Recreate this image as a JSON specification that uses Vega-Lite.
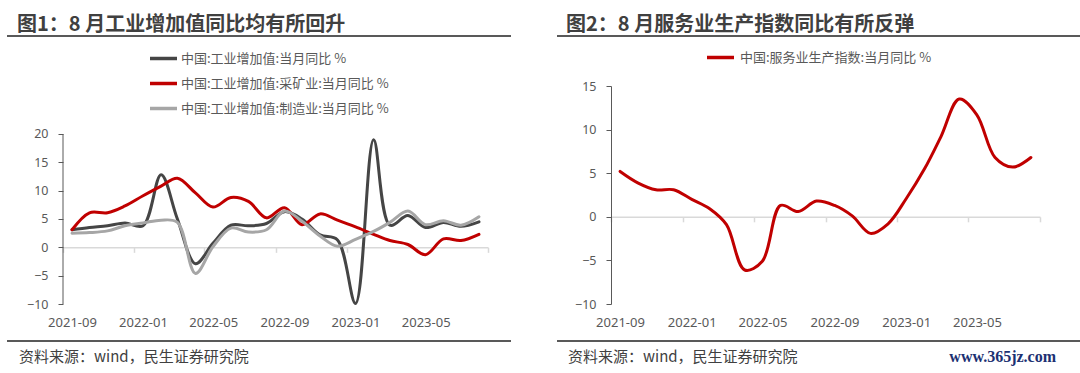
{
  "$schema": "https://vega.github.io/schema/vega-lite/v6.json",
  "background": "#ffffff",
  "padding": {"left": 6, "top": 15, "right": 0, "bottom": 0},
  "bounds": "flush",
  "spacing": 123,
  "config": {
    "font": "Noto Sans CJK SC",
    "view": {"stroke": null},
    "axisY": {"labelOverlap": false},
    "axisX": {"labelOverlap": false}
  },
  "resolve": {"scale": {"x": "independent", "y": "independent", "color": "independent"}, "legend": {"color": "independent"}},
  "datasets": {
    "ind": [
      {"month": "2021-09", "series": "中国:工业增加值:当月同比 %", "value": 3.1},
      {"month": "2021-09", "series": "中国:工业增加值:采矿业:当月同比 %", "value": 3.1},
      {"month": "2021-09", "series": "中国:工业增加值:制造业:当月同比 %", "value": 2.5},
      {"month": "2021-10", "series": "中国:工业增加值:当月同比 %", "value": 3.5},
      {"month": "2021-10", "series": "中国:工业增加值:采矿业:当月同比 %", "value": 6.1},
      {"month": "2021-10", "series": "中国:工业增加值:制造业:当月同比 %", "value": 2.6},
      {"month": "2021-11", "series": "中国:工业增加值:当月同比 %", "value": 3.8},
      {"month": "2021-11", "series": "中国:工业增加值:采矿业:当月同比 %", "value": 6.1},
      {"month": "2021-11", "series": "中国:工业增加值:制造业:当月同比 %", "value": 2.9},
      {"month": "2021-12", "series": "中国:工业增加值:当月同比 %", "value": 4.3},
      {"month": "2021-12", "series": "中国:工业增加值:采矿业:当月同比 %", "value": 7.3},
      {"month": "2021-12", "series": "中国:工业增加值:制造业:当月同比 %", "value": 3.8},
      {"month": "2022-01", "series": "中国:工业增加值:当月同比 %", "value": 3.8},
      {"month": "2022-01", "series": "中国:工业增加值:采矿业:当月同比 %", "value": 9.1},
      {"month": "2022-01", "series": "中国:工业增加值:制造业:当月同比 %", "value": 4.3},
      {"month": "2022-02", "series": "中国:工业增加值:当月同比 %", "value": 12.8},
      {"month": "2022-02", "series": "中国:工业增加值:采矿业:当月同比 %", "value": 10.8},
      {"month": "2022-02", "series": "中国:工业增加值:制造业:当月同比 %", "value": 4.8},
      {"month": "2022-03", "series": "中国:工业增加值:当月同比 %", "value": 5.0},
      {"month": "2022-03", "series": "中国:工业增加值:采矿业:当月同比 %", "value": 12.2},
      {"month": "2022-03", "series": "中国:工业增加值:制造业:当月同比 %", "value": 4.4},
      {"month": "2022-04", "series": "中国:工业增加值:当月同比 %", "value": -2.9},
      {"month": "2022-04", "series": "中国:工业增加值:采矿业:当月同比 %", "value": 9.6},
      {"month": "2022-04", "series": "中国:工业增加值:制造业:当月同比 %", "value": -4.6},
      {"month": "2022-05", "series": "中国:工业增加值:当月同比 %", "value": 0.7},
      {"month": "2022-05", "series": "中国:工业增加值:采矿业:当月同比 %", "value": 7.1},
      {"month": "2022-05", "series": "中国:工业增加值:制造业:当月同比 %", "value": 0.1},
      {"month": "2022-06", "series": "中国:工业增加值:当月同比 %", "value": 3.9},
      {"month": "2022-06", "series": "中国:工业增加值:采矿业:当月同比 %", "value": 8.8},
      {"month": "2022-06", "series": "中国:工业增加值:制造业:当月同比 %", "value": 3.4},
      {"month": "2022-07", "series": "中国:工业增加值:当月同比 %", "value": 3.8},
      {"month": "2022-07", "series": "中国:工业增加值:采矿业:当月同比 %", "value": 8.1},
      {"month": "2022-07", "series": "中国:工业增加值:制造业:当月同比 %", "value": 2.7},
      {"month": "2022-08", "series": "中国:工业增加值:当月同比 %", "value": 4.2},
      {"month": "2022-08", "series": "中国:工业增加值:采矿业:当月同比 %", "value": 5.2},
      {"month": "2022-08", "series": "中国:工业增加值:制造业:当月同比 %", "value": 3.1},
      {"month": "2022-09", "series": "中国:工业增加值:当月同比 %", "value": 6.3},
      {"month": "2022-09", "series": "中国:工业增加值:采矿业:当月同比 %", "value": 7.0},
      {"month": "2022-09", "series": "中国:工业增加值:制造业:当月同比 %", "value": 6.4},
      {"month": "2022-10", "series": "中国:工业增加值:当月同比 %", "value": 5.0},
      {"month": "2022-10", "series": "中国:工业增加值:采矿业:当月同比 %", "value": 4.0},
      {"month": "2022-10", "series": "中国:工业增加值:制造业:当月同比 %", "value": 4.6},
      {"month": "2022-11", "series": "中国:工业增加值:当月同比 %", "value": 2.2},
      {"month": "2022-11", "series": "中国:工业增加值:采矿业:当月同比 %", "value": 5.9},
      {"month": "2022-11", "series": "中国:工业增加值:制造业:当月同比 %", "value": 2.0},
      {"month": "2022-12", "series": "中国:工业增加值:当月同比 %", "value": 1.3},
      {"month": "2022-12", "series": "中国:工业增加值:采矿业:当月同比 %", "value": 4.8},
      {"month": "2022-12", "series": "中国:工业增加值:制造业:当月同比 %", "value": 0.2},
      {"month": "2023-01", "series": "中国:工业增加值:当月同比 %", "value": -9.9},
      {"month": "2023-01", "series": "中国:工业增加值:采矿业:当月同比 %", "value": 3.6},
      {"month": "2023-01", "series": "中国:工业增加值:制造业:当月同比 %", "value": 1.4},
      {"month": "2023-02", "series": "中国:工业增加值:当月同比 %", "value": 19.0},
      {"month": "2023-02", "series": "中国:工业增加值:采矿业:当月同比 %", "value": 2.3},
      {"month": "2023-02", "series": "中国:工业增加值:制造业:当月同比 %", "value": 2.8},
      {"month": "2023-03", "series": "中国:工业增加值:当月同比 %", "value": 3.9},
      {"month": "2023-03", "series": "中国:工业增加值:采矿业:当月同比 %", "value": 1.2},
      {"month": "2023-03", "series": "中国:工业增加值:制造业:当月同比 %", "value": 4.4},
      {"month": "2023-04", "series": "中国:工业增加值:当月同比 %", "value": 5.6},
      {"month": "2023-04", "series": "中国:工业增加值:采矿业:当月同比 %", "value": 0.5},
      {"month": "2023-04", "series": "中国:工业增加值:制造业:当月同比 %", "value": 6.4},
      {"month": "2023-05", "series": "中国:工业增加值:当月同比 %", "value": 3.5},
      {"month": "2023-05", "series": "中国:工业增加值:采矿业:当月同比 %", "value": -1.3},
      {"month": "2023-05", "series": "中国:工业增加值:制造业:当月同比 %", "value": 4.0},
      {"month": "2023-06", "series": "中国:工业增加值:当月同比 %", "value": 4.4},
      {"month": "2023-06", "series": "中国:工业增加值:采矿业:当月同比 %", "value": 1.5},
      {"month": "2023-06", "series": "中国:工业增加值:制造业:当月同比 %", "value": 4.7},
      {"month": "2023-07", "series": "中国:工业增加值:当月同比 %", "value": 3.7},
      {"month": "2023-07", "series": "中国:工业增加值:采矿业:当月同比 %", "value": 1.2},
      {"month": "2023-07", "series": "中国:工业增加值:制造业:当月同比 %", "value": 3.9},
      {"month": "2023-08", "series": "中国:工业增加值:当月同比 %", "value": 4.5},
      {"month": "2023-08", "series": "中国:工业增加值:采矿业:当月同比 %", "value": 2.3},
      {"month": "2023-08", "series": "中国:工业增加值:制造业:当月同比 %", "value": 5.4}
    ],
    "svc": [
      {"month": "2021-09", "value": 5.2},
      {"month": "2021-10", "value": 3.9},
      {"month": "2021-11", "value": 3.1},
      {"month": "2021-12", "value": 3.1},
      {"month": "2022-01", "value": 2.0},
      {"month": "2022-02", "value": 0.9},
      {"month": "2022-03", "value": -0.9},
      {"month": "2022-04", "value": -6.1},
      {"month": "2022-05", "value": -5.1},
      {"month": "2022-06", "value": 1.3},
      {"month": "2022-07", "value": 0.6},
      {"month": "2022-08", "value": 1.8},
      {"month": "2022-09", "value": 1.3},
      {"month": "2022-10", "value": 0.1},
      {"month": "2022-11", "value": -1.9},
      {"month": "2022-12", "value": -0.8},
      {"month": "2023-01", "value": 2.1},
      {"month": "2023-02", "value": 5.5},
      {"month": "2023-03", "value": 9.2},
      {"month": "2023-04", "value": 13.5},
      {"month": "2023-05", "value": 11.7},
      {"month": "2023-06", "value": 6.8},
      {"month": "2023-07", "value": 5.7},
      {"month": "2023-08", "value": 6.8}
    ]
  },
  "hconcat": [
    {
      "width": 425,
      "height": 218,
      "title": {"text": "图1：8 月工业增加值同比均有所回升", "anchor": "start", "frame": "group", "dx": -46, "offset": 0, "fontSize": 20, "fontWeight": "bold", "color": "#404040", "font": "Noto Sans CJK SC"},
      "layer": [
        {
          "data": {"name": "ind"},
          "mark": {"type": "line", "interpolate": "catmull-rom", "strokeWidth": 3, "strokeCap": "round", "strokeJoin": "round"},
          "encoding": {
            "x": {
              "field": "month", "type": "temporal",
              "scale": {"type": "utc", "domain": [{"year": 2021, "month": 8, "date": 16, "hours": 12, "utc": true}, {"year": 2023, "month": 8, "date": 16, "hours": 12, "utc": true}]},
              "axis": {
                "orient": "bottom", "offset": -56.67, "title": null, "grid": false,
                "values": [
                  {"year": 2021, "month": 8, "date": 16, "hours": 12, "utc": true},
                  {"year": 2021, "month": 12, "date": 16, "hours": 12, "utc": true},
                  {"year": 2022, "month": 4, "date": 16, "utc": true},
                  {"year": 2022, "month": 8, "date": 16, "hours": 12, "utc": true},
                  {"year": 2022, "month": 12, "date": 16, "hours": 12, "utc": true},
                  {"year": 2023, "month": 4, "date": 16, "utc": true},
                  {"year": 2023, "month": 8, "date": 16, "hours": 12, "utc": true}
                ],
                "labelExpr": "datum.value > 1690000000000 ? '' : utcFormat(datum.value + 1382400000, '%Y-%m')",
                "labelOffset": 9, "labelPadding": 63.7, "labelFlush": false, "labelOverlap": false,
                "labelFont": "Noto Sans", "labelFontSize": 13, "labelColor": "#595959",
                "domain": true, "domainColor": "#d9d9d9", "domainWidth": 1.5,
                "ticks": true, "tickColor": "#d9d9d9", "tickSize": 5, "tickWidth": 1.5
              }
            },
            "y": {
              "field": "value", "type": "quantitative",
              "scale": {"domain": [-10, 28.47], "nice": false, "zero": false},
              "axis": {"orient": "left", "values": [-10, -5, 0, 5, 10, 15, 20], "tickCount": 8, "labelOverlap": false, "domain": false, "ticks": true, "tickColor": "#595959", "tickSize": 5, "labelFont": "Noto Sans", "labelColor": "#595959", "labelFontSize": 12.5, "labelPadding": 10, "title": null, "grid": false}
            },
            "color": {
              "field": "series", "type": "nominal",
              "scale": {"domain": ["中国:工业增加值:当月同比 %", "中国:工业增加值:采矿业:当月同比 %", "中国:工业增加值:制造业:当月同比 %"], "range": ["#454545", "#c00000", "#a6a6a6"]},
              "legend": {"title": null, "orient": "none", "legendX": 94, "legendY": -34, "direction": "vertical", "symbolType": "M-3,0H3", "symbolSize": 81, "symbolStrokeWidth": 3.5, "labelFontSize": 13, "labelColor": "#595959", "labelOffset": 11, "rowPadding": 10, "padding": 0, "labelLimit": 400, "labelFont": "Noto Sans CJK SC"}
            }
          }
        },
        {
          "data": {"values": [{}]},
          "mark": {"type": "rule", "color": "#595959", "strokeWidth": 1},
          "encoding": {
            "x": {"datum": {"year": 2021, "month": 8, "date": 16, "hours": 12, "utc": true}, "type": "temporal"},
            "y": {"datum": -10, "type": "quantitative", "axis": {"orient": "left", "values": [-10, -5, 0, 5, 10, 15, 20], "tickCount": 8, "labelOverlap": false, "domain": false, "ticks": true, "tickColor": "#595959", "tickSize": 5, "labelFont": "Noto Sans", "labelColor": "#595959", "labelFontSize": 12.5, "labelPadding": 10, "title": null, "grid": false}},
            "y2": {"datum": 20}
          }
        },
        {
          "data": {"values": [{}]},
          "mark": {"type": "rule", "color": "#595959", "strokeWidth": 2},
          "encoding": {
            "x": {"datum": {"year": 2021, "month": 5, "date": 12, "hours": 8, "utc": true}, "type": "temporal"},
            "x2": {"datum": {"year": 2023, "month": 9, "date": 25, "utc": true}},
            "y": {"datum": 37.29, "type": "quantitative", "axis": {"orient": "left", "values": [-10, -5, 0, 5, 10, 15, 20], "tickCount": 8, "labelOverlap": false, "domain": false, "ticks": true, "tickColor": "#595959", "tickSize": 5, "labelFont": "Noto Sans", "labelColor": "#595959", "labelFontSize": 12.5, "labelPadding": 10, "title": null, "grid": false}}
          }
        },
        {
          "data": {"values": [{}]},
          "mark": {"type": "rule", "color": "#595959", "strokeWidth": 2},
          "encoding": {
            "x": {"datum": {"year": 2021, "month": 5, "date": 12, "hours": 8, "utc": true}, "type": "temporal"},
            "x2": {"datum": {"year": 2023, "month": 9, "date": 25, "utc": true}},
            "y": {"datum": -16.53, "type": "quantitative", "axis": {"orient": "left", "values": [-10, -5, 0, 5, 10, 15, 20], "tickCount": 8, "labelOverlap": false, "domain": false, "ticks": true, "tickColor": "#595959", "tickSize": 5, "labelFont": "Noto Sans", "labelColor": "#595959", "labelFontSize": 12.5, "labelPadding": 10, "title": null, "grid": false}}
          }
        },
        {
          "data": {"values": [{}]},
          "mark": {"type": "text", "text": "资料来源：wind，民生证券研究院", "align": "left", "baseline": "middle", "fontSize": 15, "color": "#404040", "font": "Noto Sans CJK SC"},
          "encoding": {
            "x": {"datum": {"year": 2021, "month": 6, "date": 2, "utc": true}, "type": "temporal"},
            "y": {"datum": -19.35, "type": "quantitative", "axis": {"orient": "left", "values": [-10, -5, 0, 5, 10, 15, 20], "tickCount": 8, "labelOverlap": false, "domain": false, "ticks": true, "tickColor": "#595959", "tickSize": 5, "labelFont": "Noto Sans", "labelColor": "#595959", "labelFontSize": 12.5, "labelPadding": 10, "title": null, "grid": false}}
          }
        }
      ]
    },
    {
      "width": 429,
      "height": 218,
      "title": {"text": "图2：8 月服务业生产指数同比有所反弹", "anchor": "start", "frame": "group", "dx": -45, "offset": 0, "fontSize": 20, "fontWeight": "bold", "color": "#404040", "font": "Noto Sans CJK SC"},
      "layer": [
        {
          "data": {"name": "svc"},
          "mark": {"type": "line", "interpolate": "catmull-rom", "strokeWidth": 3, "strokeCap": "round", "strokeJoin": "round"},
          "encoding": {
            "x": {
              "field": "month", "type": "temporal",
              "scale": {"type": "utc", "domain": [{"year": 2021, "month": 8, "date": 16, "hours": 12, "utc": true}, {"year": 2023, "month": 8, "date": 16, "hours": 12, "utc": true}]},
              "axis": {
                "orient": "bottom", "offset": -87.2, "title": null, "grid": false,
                "values": [
                  {"year": 2021, "month": 8, "date": 16, "hours": 12, "utc": true},
                  {"year": 2021, "month": 12, "date": 16, "hours": 12, "utc": true},
                  {"year": 2022, "month": 4, "date": 16, "utc": true},
                  {"year": 2022, "month": 8, "date": 16, "hours": 12, "utc": true},
                  {"year": 2022, "month": 12, "date": 16, "hours": 12, "utc": true},
                  {"year": 2023, "month": 4, "date": 16, "utc": true},
                  {"year": 2023, "month": 8, "date": 16, "hours": 12, "utc": true}
                ],
                "labelExpr": "datum.value > 1690000000000 ? '' : utcFormat(datum.value + 1382400000, '%Y-%m')",
                "labelOffset": 9, "labelPadding": 94.2, "labelFlush": false, "labelOverlap": false,
                "labelFont": "Noto Sans", "labelFontSize": 13, "labelColor": "#595959",
                "domain": true, "domainColor": "#d9d9d9", "domainWidth": 1.5,
                "ticks": true, "tickColor": "#d9d9d9", "tickSize": 5, "tickWidth": 1.5
              }
            },
            "y": {
              "field": "value", "type": "quantitative",
              "scale": {"domain": [-10, 15], "nice": false, "zero": false},
              "axis": {"orient": "left", "values": [-10, -5, 0, 5, 10, 15], "labelOverlap": false, "domain": true, "domainColor": "#595959", "ticks": true, "tickColor": "#595959", "tickSize": 5, "labelFont": "Noto Sans", "labelColor": "#595959", "labelFontSize": 12.5, "labelPadding": 10, "title": null, "grid": false}
            },
            "color": {
              "datum": "中国:服务业生产指数:当月同比 %", "type": "nominal",
              "scale": {"range": ["#c00000"]},
              "legend": {"title": null, "orient": "none", "legendX": 103, "legendY": -35, "direction": "vertical", "symbolType": "M-3,0H3", "symbolSize": 81, "symbolStrokeWidth": 3.5, "labelFontSize": 13, "labelColor": "#595959", "labelOffset": 13, "padding": 0, "labelLimit": 400, "labelFont": "Noto Sans CJK SC"}
            }
          }
        },
        {
          "data": {"values": [{}]},
          "mark": {"type": "rule", "color": "#595959", "strokeWidth": 2},
          "encoding": {
            "x": {"datum": {"year": 2021, "month": 5, "date": 16, "hours": 15, "utc": true}, "type": "temporal"},
            "x2": {"datum": {"year": 2023, "month": 10, "date": 25, "utc": true}},
            "y": {"datum": 20.73, "type": "quantitative"}
          }
        },
        {
          "data": {"values": [{}]},
          "mark": {"type": "rule", "color": "#595959", "strokeWidth": 2},
          "encoding": {
            "x": {"datum": {"year": 2021, "month": 5, "date": 16, "hours": 15, "utc": true}, "type": "temporal"},
            "x2": {"datum": {"year": 2023, "month": 10, "date": 25, "utc": true}},
            "y": {"datum": -14.24, "type": "quantitative"}
          }
        },
        {
          "data": {"values": [{}]},
          "mark": {"type": "text", "text": "资料来源：wind，民生证券研究院", "align": "left", "baseline": "middle", "fontSize": 15, "color": "#404040", "font": "Noto Sans CJK SC"},
          "encoding": {
            "x": {"datum": {"year": 2021, "month": 6, "date": 4, "hours": 8, "utc": true}, "type": "temporal"},
            "y": {"datum": -16.08, "type": "quantitative"}
          }
        },
        {
          "data": {"values": [{}]},
          "mark": {"type": "text", "text": "www.365jz.com", "align": "right", "baseline": "middle", "fontSize": 16, "fontWeight": "bold", "color": "#1c3172", "font": "Liberation Serif"},
          "encoding": {
            "x": {"datum": {"year": 2023, "month": 9, "date": 12, "hours": 17, "utc": true}, "type": "temporal"},
            "y": {"datum": -16.08, "type": "quantitative"}
          }
        }
      ]
    }
  ]
}
